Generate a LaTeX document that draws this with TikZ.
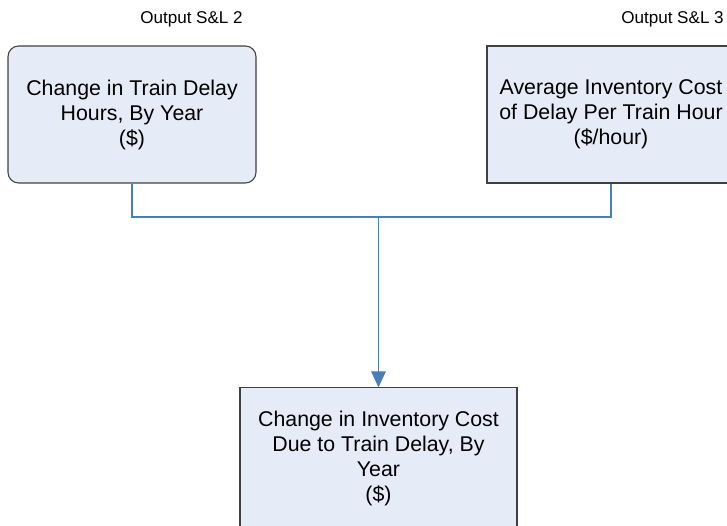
\documentclass[tikz,border=0pt]{standalone}
\usepackage{fontspec}
\setmainfont{Liberation Sans}
\usepackage{xcolor}
\usetikzlibrary{positioning,arrows.meta}

\definecolor{boxfill}{RGB}{230,236,247}
\definecolor{boxline}{RGB}{64,64,64}
\definecolor{linkblue}{RGB}{74,126,187}

\begin{document}
\begin{tikzpicture}[x=0.75pt,y=0.75pt,
        calc/.style={rectangle,draw=boxline,fill=boxfill,line width=0.8pt,align=center,
            minimum width=186pt,minimum height=102.75pt,
            font=\fontsize{16}{18.75}\selectfont},
        tag/.style={font=\fontsize{12.8}{14}\selectfont,inner sep=0pt},
        link/.style={draw=linkblue,line width=0.8pt}]
        \useasboundingbox (0,0) rectangle (727,525);
        \clip (0,0) rectangle (727,525);
        \node[calc,rounded corners=8pt] (hours) at (132,410.5) {Change in Train Delay\\Hours, By Year\\(\$)};
        \node[calc] (rate) at (611,410.5) {Average Inventory Cost\\of Delay Per Train Hour\\(\$/hour)};
        \node[calc,minimum width=207.75pt,minimum height=106pt] (cost) at (378.5,66.5) {Change in Inventory Cost\\Due to Train Delay, By\\Year\\(\$)};
        \node[tag,anchor=east] (tag2) at (243,506) {Output S\&L 2};
        \node[tag,anchor=east] (tag3) at (724,506) {Output S\&L 3};
        \coordinate (bus) at (378.5,308);
        \draw[link] (hours.south) |- (bus) -| (rate.south);
        \draw[link,-{Triangle[length=12pt,width=11pt]}] (bus) -- (cost.north);
    \end{tikzpicture}
\end{document}
